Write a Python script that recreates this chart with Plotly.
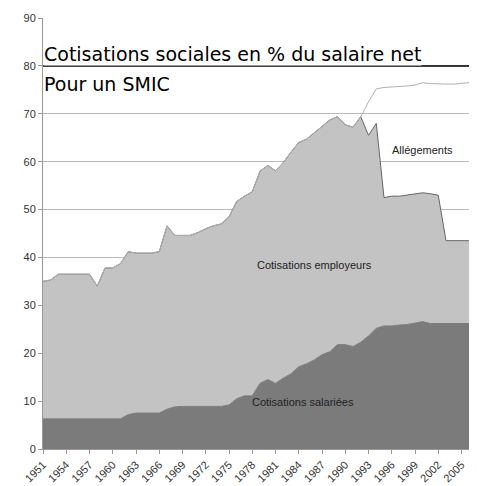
import plotly.graph_objects as go

years = list(range(1951, 2008))
salariees = [6.3]*11 + [7.2, 7.5, 7.5, 7.5, 7.5, 8.3, 8.8, 8.9, 8.9, 8.9, 8.9, 8.9, 8.9,
             9.2, 10.5, 11.1, 11.1, 13.7, 14.5, 13.7, 14.8, 15.7, 17.2, 17.8, 18.6, 19.7,
             20.3, 21.8, 21.8, 21.4, 22.3, 23.6, 25.2, 25.7, 25.7, 25.9, 26.0, 26.3, 26.6,
             26.2, 26.2, 26.2, 26.2, 26.2, 26.2, 26.9]
total = [35, 35.3, 36.5, 36.5, 36.5, 36.5, 36.5, 34, 37.8, 37.8, 38.7, 41.2, 40.9, 40.9,
         40.9, 41.2, 46.6, 44.6, 44.6, 44.6, 45.2, 46, 46.6, 47, 48.5, 51.7, 52.8, 53.7,
         58, 59.2, 58.1, 59.8, 62, 64, 64.7, 66, 67.5, 68.7, 69.4, 67.7, 67.2, 69.4, 65.5,
         68, 52.5, 52.8, 52.8, 53, 53.3, 53.5, 53.3, 53, 43.5, 43.5, 43.5, 43.5, 44]
sans_allegements = total[:42] + [72.5, 75.2, 75.5, 75.6, 75.6, 75.8, 76, 76.5, 76.3,
                                 76.2, 76.2, 76.2, 76.3, 76.5, 77]
tick_years = list(range(1951, 2007, 3))

fig = go.Figure()
fig.add_trace(go.Scatter(x=years, y=salariees, fill='tozeroy', mode='lines',
                         line=dict(color='#7b7b7b', width=1), fillcolor='#7b7b7b'))
fig.add_trace(go.Scatter(x=years, y=total, fill='tonexty', mode='lines',
                         line=dict(color='#666666', width=1), fillcolor='#c3c3c3'))
fig.add_trace(go.Scatter(x=years, y=sans_allegements, mode='lines',
                         line=dict(color='#b0b0b0', width=1)))

fig.add_shape(type='line', xref='paper', x0=0, x1=1, y0=80, y1=80, line=dict(color='black', width=1.5))
fig.add_annotation(xref='paper', yref='y', x=0.0, y=82.5, xanchor='left', showarrow=False,
                   text='Cotisations sociales en % du salaire net', bgcolor='white', borderpad=0,
                   font=dict(size=19, color='black', family='DejaVu Sans'))
fig.add_annotation(xref='paper', yref='y', x=0.0, y=76.3, xanchor='left', showarrow=False,
                   text='Pour un SMIC', bgcolor='white', borderpad=0,
                   font=dict(size=19, color='black', family='DejaVu Sans'))
fig.add_annotation(x=2000, y=62.5, text='Allégements', showarrow=False, font=dict(size=11, color='#222'))
fig.add_annotation(x=1986, y=38.5, text='Cotisations employeurs', showarrow=False, font=dict(size=11, color='#222'))
fig.add_annotation(x=1984.5, y=9.8, text='Cotisations salariées', showarrow=False, font=dict(size=11, color='#222'))

fig.update_layout(width=477, height=486, showlegend=False, plot_bgcolor='white', paper_bgcolor='white',
                  margin=dict(l=35, r=8, t=10, b=45),
                  font=dict(family='Liberation Sans', size=11, color='#333'))
fig.update_xaxes(range=[1951, 2007], tickvals=tick_years, tickangle=-45, showgrid=False,
                 ticks='outside', ticklen=4, tickcolor='#999', showline=True, linecolor='#999',
                 automargin=False)
fig.update_yaxes(range=[0, 90], dtick=10, gridcolor='#bbbbbb', showline=True, linecolor='#999',
                 ticks='outside', ticklen=4, tickcolor='#999', zeroline=False, automargin=False)
fig.write_html("out.html")
